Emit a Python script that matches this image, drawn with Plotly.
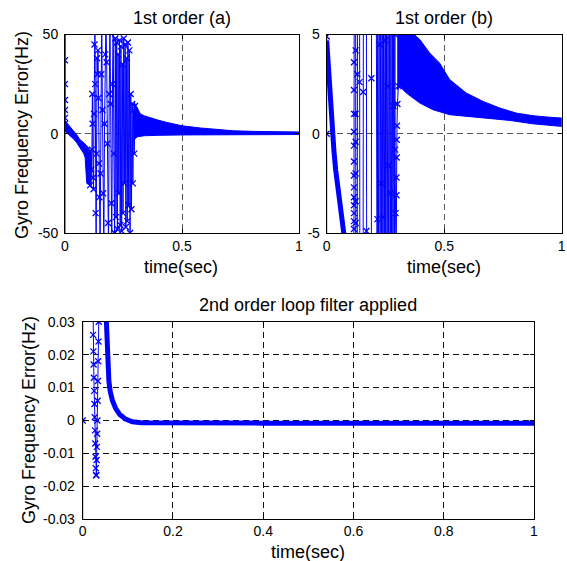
import plotly.graph_objects as go

W, H = 567, 561
BLUE = "#0000ff"
FONT = "Liberation Sans, Arial, Helvetica, sans-serif"

# ---------------- Panel (a): 1st order (a) ----------------
a_start_t = [0.0, 0.0, 0.0, 0.0, 0.0, 0.0, 0.0, 0.0]
a_start_y = [-58, 58, 37, 25, 17, 12, 8, 5]

a_early_t = [0.0, 0.02, 0.036, 0.05, 0.064, 0.08, 0.086, 0.093, 0.107, 0.112]
a_early_hi = [6.6, 3.5, 1.5, -0.5, -3.0, -4.5, -5.0, -6.0, -8.0, -9.0]
a_early_lo = [1.5, -1.0, -2.5, -4.5, -7.0, -10.0, -12.0, -25.0, -26.0, -27.0]

a_chaos_t = [0.107, 0.112, 0.115, 0.117, 0.118, 0.120, 0.122, 0.124, 0.126, 0.128,
             0.129, 0.131, 0.133, 0.135, 0.137, 0.139, 0.141, 0.143, 0.145, 0.147,
             0.150, 0.152, 0.155, 0.157, 0.160, 0.163, 0.166, 0.169, 0.172, 0.175,
             0.178, 0.181, 0.184, 0.186, 0.189, 0.192, 0.195, 0.198, 0.200, 0.203,
             0.206, 0.209, 0.212, 0.215, 0.218, 0.221, 0.224, 0.227, 0.230, 0.233,
             0.236, 0.239, 0.242, 0.245, 0.248, 0.251, 0.254, 0.257, 0.260, 0.263,
             0.266, 0.269, 0.272, 0.275, 0.278, 0.281, 0.284, 0.287, 0.290, 0.293,
             0.296, 0.299]
a_chaos_y = [-26, -18, -8, 20, 5, -22, -28, 10, 45, 58,
             25, -40, -58, -10, 38, 30, 42, 18, -15, -32,
             -58, -20, 30, 58, 12, -30, -58, 5, 40, 58,
             36, -5, -45, -58, 20, 58, 15, -35, -58, 25,
             58, -10, -50, 48, -42, 46, -48, 40, -30, 47,
             -46, 44, -49, 35, -40, 48, -25, 45, -47, 38,
             -44, 46, -36, 42, -50, 20, -38, 15, -25, 12,
             -10, 14]

a_band_hi_t = [0.295, 0.31, 0.322, 0.34, 0.365, 0.40, 0.436, 0.50, 0.58, 0.65, 0.72, 0.80, 0.90, 1.0]
a_band_hi = [16.0, 13.0, 10.0, 9.0, 8.0, 6.8, 5.7, 4.0, 2.9, 2.1, 1.5, 1.2, 1.0, 0.9]
a_band_lo_t = [0.295, 0.31, 0.34, 0.40, 0.50, 0.60, 0.80, 1.0]
a_band_lo = [-3.0, -1.5, -1.0, -0.8, -0.6, -0.5, -0.4, -0.4]

# ---------------- Panel (b): 1st order (b) ----------------
b_start_t = [0.0, 0.0, 0.0, 0.0]
b_start_y = [-7, 0.0, 4.9, 7]

b_desc_t = [0.0, 0.003, 0.006, 0.012, 0.018, 0.024, 0.031, 0.038, 0.045, 0.052, 0.060, 0.068, 0.074, 0.079]
b_desc_y = [4.7, 4.1, 3.4, 2.2, 1.0, 0.0, -0.9, -1.8, -2.5, -3.1, -3.7, -4.4, -5.0, -5.6]

b_chaos_t = [0.080, 0.114,
             0.116, 0.116, 0.116, 0.116, 0.116, 0.116, 0.116, 0.116, 0.116, 0.116, 0.116, 0.116, 0.116, 0.117,
             0.123, 0.123, 0.123, 0.123, 0.123, 0.123, 0.123, 0.124,
             0.130, 0.130, 0.131,
             0.140, 0.140, 0.141,
             0.155, 0.155, 0.156,
             0.169, 0.169, 0.170,
             0.190, 0.190, 0.191,
             0.211, 0.214, 0.216, 0.217, 0.220, 0.223, 0.226, 0.227, 0.230, 0.232,
             0.233, 0.236, 0.239, 0.240, 0.242, 0.245, 0.248, 0.250, 0.251, 0.254,
             0.257, 0.260, 0.261, 0.262, 0.264, 0.267, 0.270, 0.272, 0.273, 0.276,
             0.279, 0.282, 0.284, 0.285, 0.288, 0.290, 0.291, 0.293, 0.294,
             0.296, 0.297, 0.297, 0.298, 0.298, 0.299, 0.301, 0.305]
b_chaos_y = [-7, -7,
             -4.8, -4.4, -4.0, -3.6, -3.2, -2.7, -2.1, -1.4, -0.6, 0.1, 1.0, 2.2, 3.6, 7,
             7, 4.2, 1.0, -0.4, -2.0, -3.4, -4.5, -7,
             -7, 3.0, 7,
             7, 2.6, -7,
             -7, 2.1, 7,
             7, -4.9, -7,
             -7, 2.8, 7,
             7, -7, -4.3, 7, -7, 7, 4.5, -7, 7, -2.5,
             -7, 7, -7, -4.2, 7, -7, 7, 4.7, -7, 7,
             -7, 2.4, 7, -1.6, -7, 7, -7, -3.0, 7, -7,
             7, -7, 1.4, 7, -7, 5.0, -0.8, -4.0, -7,
             -7, -3.1, -2.2, -1.2, -0.3, 0.4, 1.5, 2.4]

b_band_hi_t = [0.300, 0.31, 0.367, 0.396, 0.438, 0.48, 0.523, 0.594, 0.665, 0.736, 0.807, 0.878, 0.94, 1.0]
b_band_hi = [5.5, 5.3, 5.05, 4.75, 4.07, 3.57, 2.73, 2.05, 1.63, 1.30, 1.04, 0.91, 0.84, 0.79]
b_band_lo_t = [0.300, 0.31, 0.339, 0.396, 0.452, 0.523, 0.665, 0.78, 0.877, 1.0]
b_band_lo = [2.2, 2.39, 2.05, 1.55, 1.21, 0.96, 0.79, 0.67, 0.50, 0.37]

# ---------------- Panel (c): 2nd order loop filter applied ----------------
c_start_t = [0.0, 0.0, 0.0]
c_start_y = [0.035, 0.0, -0.035]

c_early_t = [0.0228, 0.0230, 0.0236, 0.0242, 0.0248, 0.0254, 0.0260, 0.0266, 0.0272, 0.0278,
             0.0284, 0.0290, 0.0296, 0.0302, 0.0308, 0.0314, 0.0320, 0.0326, 0.0332, 0.0338,
             0.0344, 0.0350, 0.0356]
c_early_y = [0.036, 0.026, 0.021, 0.017, 0.013, 0.009, 0.005, 0.001, -0.003, -0.007,
             -0.011, -0.0145, -0.0166, -0.0166, -0.012, -0.008, -0.004, 0.0, 0.006, 0.012,
             0.018, 0.024, 0.030]

c_tail_t = [0.0356, 0.038, 0.042, 0.046, 0.050, 0.0525, 0.0555, 0.058, 0.061, 0.066,
            0.073, 0.082, 0.095, 0.110, 0.130, 0.2, 0.3, 0.4, 0.5, 0.6, 0.7, 0.8, 0.9, 1.0]
c_tail_y = [0.030, 0.034, 0.037, 0.037, 0.034, 0.030, 0.0169, 0.012, 0.0088, 0.006,
            0.0037, 0.0018, 0.0004, -0.0004, -0.0007, -0.0008, -0.0008, -0.0008, -0.0008,
            -0.0008, -0.0008, -0.0008, -0.0008, -0.0008]

# ---------------- ticks ----------------
top_x_ticks = [0, 0.5, 1]
top_x_labels = ["0", "0.5", "1"]
a_y_ticks = [-50, 0, 50]
a_y_labels = ["-50", "0", "50"]
b_y_ticks = [-5, 0, 5]
b_y_labels = ["-5", "0", "5"]
c_x_ticks = [0, 0.2, 0.4, 0.6, 0.8, 1.0]
c_x_labels = ["0", "0.2", "0.4", "0.6", "0.8", "1"]
c_y_ticks = [-0.03, -0.02, -0.01, 0, 0.01, 0.02, 0.03]
c_y_labels = ["-0.03", "-0.02", "-0.01", "0", "0.01", "0.02", "0.03"]

fig = go.Figure()

MK = dict(symbol="x-thin", size=6, color=BLUE, line=dict(width=1.3, color=BLUE))


def path(t, y, xa, ya, markers=True, width=1):
    fig.add_trace(go.Scatter(x=t, y=y, mode="lines+markers" if markers else "lines",
                             line=dict(color=BLUE, width=width), marker=MK,
                             xaxis=xa, yaxis=ya, showlegend=False, hoverinfo="skip"))


def band(t_hi, hi, t_lo, lo, xa, ya):
    fig.add_trace(go.Scatter(x=list(t_hi) + list(t_lo)[::-1], y=list(hi) + list(lo)[::-1],
                             mode="lines", fill="toself", fillcolor=BLUE,
                             line=dict(color=BLUE, width=1),
                             xaxis=xa, yaxis=ya, showlegend=False, hoverinfo="skip"))


# panel a
band(a_early_t, a_early_hi, a_early_t, a_early_lo, "x", "y")
band(a_band_hi_t, a_band_hi, a_band_lo_t, a_band_lo, "x", "y")
path(a_start_t, a_start_y, "x", "y")
path(a_chaos_t, a_chaos_y, "x", "y")

# panel b
path(b_start_t, b_start_y, "x2", "y2")
path(b_desc_t, b_desc_y, "x2", "y2", markers=False, width=5)
band(b_band_hi_t, b_band_hi, b_band_lo_t, b_band_lo, "x2", "y2")
path(b_chaos_t, b_chaos_y, "x2", "y2")

# panel c
path(c_start_t, c_start_y, "x3", "y3")
path(c_tail_t, c_tail_y, "x3", "y3", markers=False, width=5)
path(c_early_t, c_early_y, "x3", "y3")


def axis(domain, anchor, rng, tv, tt, gridcolor, standoff):
    return dict(domain=domain, anchor=anchor, range=rng, tickvals=tv, ticktext=tt,
                showline=True, linecolor="black", linewidth=1, mirror="ticks",
                ticks="inside", ticklen=4, tickcolor="black",
                showgrid=True, gridcolor=gridcolor, gridwidth=1, griddash="6px,4px",
                zeroline=False, tickfont=dict(family=FONT, size=14, color="black"),
                ticklabelstandoff=standoff, fixedrange=True)


ya_dom = [1 - 233 / H, 1 - 34.5 / H]
yc_dom = [1 - 519.3 / H, 1 - 321.7 / H]

fig.update_layout(
    width=W, height=H, paper_bgcolor="white", plot_bgcolor="white",
    margin=dict(l=0, r=0, t=0, b=0, autoexpand=False),
    xaxis=axis([65 / W, 299 / W], "y", [0, 1], top_x_ticks, top_x_labels, "#555555", 0),
    yaxis=axis(ya_dom, "x", [-50, 50], a_y_ticks, a_y_labels, "#555555", 3),
    xaxis2=axis([326.7 / W, 561.7 / W], "y2", [0, 1], top_x_ticks, top_x_labels, "#555555", 0),
    yaxis2=axis(ya_dom, "x2", [-5, 5], b_y_ticks, b_y_labels, "#555555", 3),
    xaxis3=axis([82.7 / W, 534 / W], "y3", [0, 1], c_x_ticks, c_x_labels, "#111111", -1),
    yaxis3=axis(yc_dom, "x3", [-0.03, 0.03], c_y_ticks, c_y_labels, "#111111", 4),
)

LF = dict(family=FONT, size=18, color="black")


def label(text, x, y, angle=0):
    fig.add_annotation(text=text, x=x / W, y=1 - y / H, xref="paper", yref="paper",
                       xanchor="center", yanchor="middle", showarrow=False,
                       textangle=angle, font=LF)


label("1st order (a)", 182, 18)
label("1st order (b)", 444, 18)
label("2nd order loop filter applied", 308, 305)
label("time(sec)", 181, 267)
label("time(sec)", 444, 267)
label("time(sec)", 308, 552)
label("Gyro Frequency Error(Hz)", 22, 135, -90)
label("Gyro Frequency Error(Hz)", 29, 420, -90)

fig.write_html("out.html", config={"displayModeBar": False},
               post_script="document.body.style.margin='0';document.body.style.overflow='hidden';")
